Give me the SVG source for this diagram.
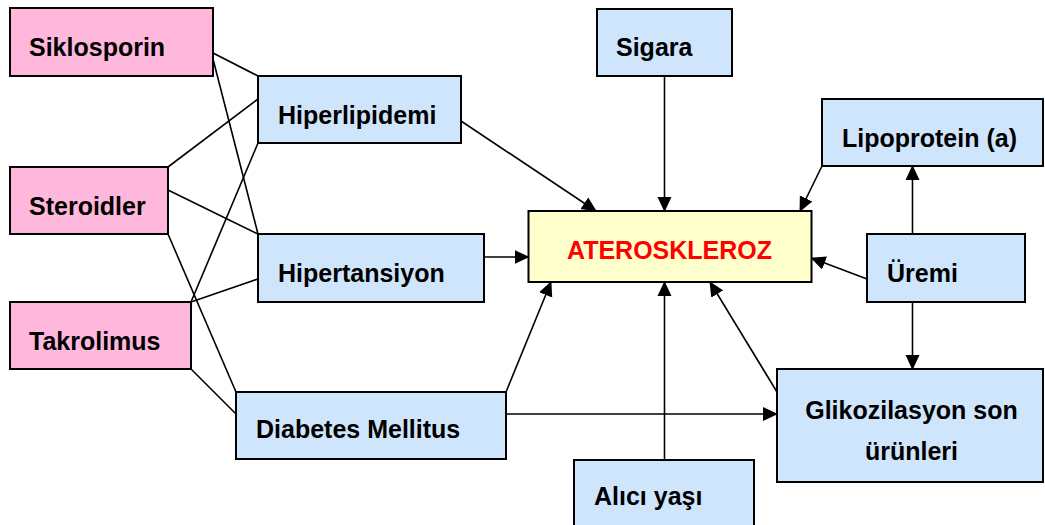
<svg xmlns="http://www.w3.org/2000/svg" width="1045" height="525" viewBox="0 0 1045 525">
<style>
rect{stroke:#000;stroke-width:2}
.p{fill:#FFB7DC}
.b{fill:#CFE5FC}
.y{fill:#FFFFCC}
text{font-family:"Liberation Sans",Arial,sans-serif;font-weight:bold;font-size:25px;fill:#000}
.r{fill:#FF0000}
.c line{stroke:#000;stroke-width:1.6}
.a{marker-end:url(#ah)}
</style>
<defs>
<marker id="ah" markerUnits="userSpaceOnUse" markerWidth="15" markerHeight="15" refX="14" refY="7.5" orient="auto" viewBox="0 0 15 15">
<path d="M0,0.5 L15,7.5 L0,14.5 z" fill="#000"/>
</marker>
</defs>
<rect width="1045" height="525" fill="#fff" style="stroke:none"/>
<g id="siklosporin"><rect class="p" x="10" y="8" width="203" height="68"/><text x="29" y="56">Siklosporin</text></g>
<g id="steroidler"><rect class="p" x="10" y="167" width="158" height="67"/><text x="29" y="215">Steroidler</text></g>
<g id="takrolimus"><rect class="p" x="10" y="302" width="181" height="67"/><text x="29" y="350">Takrolimus</text></g>
<g id="hiperlipidemi"><rect class="b" x="258" y="76" width="203" height="67"/><text x="278" y="124">Hiperlipidemi</text></g>
<g id="hipertansiyon"><rect class="b" x="258" y="234" width="226" height="68"/><text x="278" y="282">Hipertansiyon</text></g>
<g id="diabetes"><rect class="b" x="236" y="392" width="270" height="67"/><text x="256" y="438">Diabetes Mellitus</text></g>
<g id="sigara"><rect class="b" x="597" y="9" width="135" height="67"/><text x="616" y="56">Sigara</text></g>
<g id="ateroskleroz"><rect class="y" x="528.5" y="211" width="283" height="71"/><text class="r" x="669.5" y="259" text-anchor="middle">ATEROSKLEROZ</text></g>
<g id="lipoprotein"><rect class="b" x="822" y="99" width="221" height="67"/><text x="842" y="147">Lipoprotein (a)</text></g>
<g id="uremi"><rect class="b" x="867" y="234" width="158" height="68"/><text x="887" y="282">Üremi</text></g>
<g id="glikozilasyon"><rect class="b" x="777" y="369" width="266" height="113"/><text x="911.5" y="419" text-anchor="middle">Glikozilasyon son</text><text x="911.5" y="460" text-anchor="middle">ürünleri</text></g>
<g id="alici"><rect class="b" x="574" y="460" width="180" height="75"/><text x="594" y="505">Alıcı yaşı</text></g>
<g class="c" id="connectors">
<line x1="213" y1="53" x2="258" y2="76"/>
<line x1="213" y1="59" x2="258" y2="234"/>
<line x1="168" y1="167" x2="258" y2="99"/>
<line x1="168" y1="190" x2="258" y2="234"/>
<line x1="168" y1="234" x2="236" y2="392"/>
<line x1="191" y1="302" x2="258" y2="143"/>
<line x1="191" y1="302" x2="258" y2="279"/>
<line x1="191" y1="369" x2="236" y2="414"/>
<line class="a" x1="461" y1="121" x2="596" y2="211"/>
<line class="a" x1="664.5" y1="76" x2="664.5" y2="211"/>
<line class="a" x1="822" y1="166" x2="800" y2="211"/>
<line class="a" x1="484" y1="257" x2="528.5" y2="257"/>
<line class="a" x1="867" y1="279" x2="811.5" y2="258"/>
<line class="a" x1="912.5" y1="234" x2="912.5" y2="166"/>
<line class="a" x1="912.5" y1="302" x2="912.5" y2="369"/>
<line class="a" x1="506" y1="392" x2="551" y2="282"/>
<line class="a" x1="664.5" y1="460" x2="664.5" y2="282"/>
<line class="a" x1="777" y1="392" x2="710" y2="282"/>
<line class="a" x1="506" y1="414" x2="777" y2="414"/>
</g>
</svg>
